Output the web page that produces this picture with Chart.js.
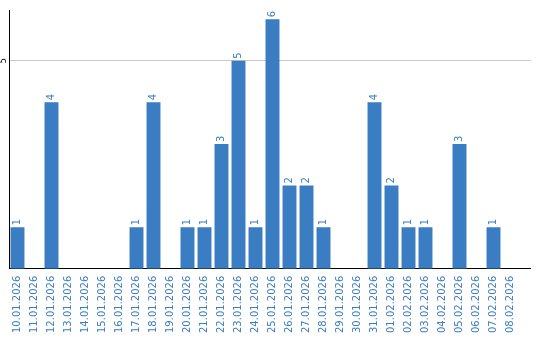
<!DOCTYPE html>
<html>
<head>
<meta charset="utf-8">
<script src="https://cdn.jsdelivr.net/npm/chart.js@4/dist/chart.umd.min.js"></script>
<style>
  html, body { margin: 0; padding: 0; background: #fff; }
  #wrap { width: 540px; height: 340px; position: relative; }
</style>
</head>
<body>
<div id="wrap"><canvas id="barChart"></canvas></div>
<script>
// daily counts
const days = [
  '10.01.2026', '11.01.2026', '12.01.2026', '13.01.2026', '14.01.2026',
  '15.01.2026', '16.01.2026', '17.01.2026', '18.01.2026', '19.01.2026',
  '20.01.2026', '21.01.2026', '22.01.2026', '23.01.2026', '24.01.2026',
  '25.01.2026', '26.01.2026', '27.01.2026', '28.01.2026', '29.01.2026',
  '30.01.2026', '31.01.2026', '01.02.2026', '02.02.2026', '03.02.2026',
  '04.02.2026', '05.02.2026', '06.02.2026', '07.02.2026', '08.02.2026'
];
const counts = [1, 0, 4, 0, 0, 0, 0, 1, 4, 0, 1, 1, 3, 5, 1, 6, 2, 2, 1, 0, 0, 4, 2, 1, 1, 0, 3, 0, 1, 0];
const yTicks = [5];

const BLUE = '#3b7dc2';
const FONT = "'DejaVu Sans', sans-serif";
const AXIS_END = 531; // axis + grid run a bit past the last day

// same pixel snapping chart.js uses for 1px lines
const snap = p => Math.round(p - 0.5) + 0.5;

// ── value labels above bars + rotated y tick + axis extension ──
const extras = {
  id: 'extras',
  beforeDatasetsDraw(chart) {
    const ctx = chart.ctx;
    const area = chart.chartArea;
    const y = chart.scales.y;
    ctx.save();
    ctx.strokeStyle = '#c8c8c8';
    ctx.lineWidth = 1;
    yTicks.forEach(v => {
      const py = snap(y.getPixelForValue(v));
      ctx.beginPath();
      ctx.moveTo(area.right - 1, py);
      ctx.lineTo(AXIS_END, py);
      ctx.stroke();
    });
    ctx.restore();
  },
  afterDatasetsDraw(chart) {
    const ctx = chart.ctx;
    const meta = chart.getDatasetMeta(0);
    ctx.save();
    ctx.fillStyle = BLUE;
    ctx.font = '10px ' + FONT;
    ctx.textAlign = 'left';
    ctx.textBaseline = 'middle';
    meta.data.forEach((bar, i) => {
      if (!counts[i]) return;
      ctx.save();
      ctx.translate(bar.x, bar.y - 2);
      ctx.rotate(-Math.PI / 2);
      ctx.fillText(String(counts[i]), 0, 0);
      ctx.restore();
    });
    ctx.restore();
  },
  afterDraw(chart) {
    const ctx = chart.ctx;
    const area = chart.chartArea;
    const y = chart.scales.y;
    ctx.save();
    ctx.fillStyle = '#000';
    ctx.font = '8px ' + FONT;
    ctx.textAlign = 'center';
    ctx.textBaseline = 'middle';
    yTicks.forEach(v => {
      ctx.save();
      ctx.translate(area.left - 5, y.getPixelForValue(v));
      ctx.rotate(-Math.PI / 2);
      ctx.fillText(String(v), 0, 0);
      ctx.restore();
    });
    ctx.strokeStyle = '#000';
    ctx.lineWidth = 1;
    const py = snap(area.bottom);
    ctx.beginPath();
    ctx.moveTo(area.right - 1, py);
    ctx.lineTo(AXIS_END, py);
    ctx.stroke();
    ctx.restore();
  }
};

new Chart(document.getElementById('barChart'), {
  type: 'bar',
  data: {
    labels: days,
    datasets: [{
      data: counts,
      backgroundColor: BLUE,
      borderWidth: 0,
      barPercentage: 0.82,
      categoryPercentage: 1.0
    }]
  },
  options: {
    responsive: true,
    maintainAspectRatio: false,
    animation: false,
    layout: { padding: { left: 9, right: 21, top: 10, bottom: 0 } },
    plugins: { legend: { display: false }, tooltip: { enabled: false } },
    scales: {
      x: {
        offset: true,
        grid: { display: false, drawTicks: false },
        border: { color: '#000', width: 1 },
        ticks: {
          color: BLUE,
          font: { family: FONT, size: 10 },
          minRotation: 90,
          maxRotation: 90,
          autoSkip: false,
          padding: 7
        }
      },
      y: {
        min: 0,
        max: 6.22,
        afterBuildTicks: axis => { axis.ticks = yTicks.map(v => ({ value: v })); },
        grid: { color: '#c8c8c8', drawTicks: false },
        border: { color: '#000', width: 1 },
        ticks: { display: false }
      }
    }
  },
  plugins: [extras]
});
</script>
</body>
</html>
